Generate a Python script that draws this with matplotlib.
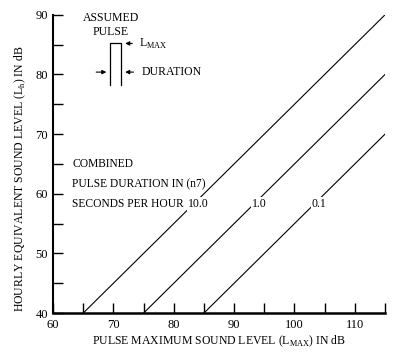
import numpy as np
import matplotlib
matplotlib.use('Agg')
import matplotlib.pyplot as plt

# pulse durations (seconds per hour) and line end points
durations = ['10.0', '1.0', '0.1']
x_start = [65, 75, 85]
y_start = [40, 40, 40]
x_end = [115, 115, 115]
y_end = [90, 80, 70]
label_y = 58.3

# note text, one line each
note_lines = ['COMBINED', 'PULSE DURATION IN (n7)', 'SECONDS PER HOUR']
note_y = [65.0, 61.6, 58.3]

plt.rcParams['font.family'] = ['Liberation Serif', 'DejaVu Serif']
plt.rcParams['mathtext.fontset'] = 'custom'
plt.rcParams['mathtext.rm'] = 'Liberation Serif'

fig = plt.figure(figsize=(4.0, 3.53), dpi=100)
ax = fig.add_axes([0.1325, 0.113, 0.83, 0.845])

for d, x0, y0, x1, y1 in zip(durations, x_start, y_start, x_end, y_end):
    ax.plot([x0, x1], [y0, y1], color='black', lw=0.8, zorder=2)
    lx = x0 + (label_y - y0) + 0.8
    ax.text(lx, label_y, d, fontsize=8.5, ha='center', va='center', zorder=3,
            bbox=dict(facecolor='white', edgecolor='none', pad=0.6))

for s, yy in zip(note_lines, note_y):
    ax.text(63.2, yy, s, fontsize=8.3, ha='left', va='center')

ax.set_xlim(60, 115)
ax.set_ylim(40, 90)
ax.set_xticks(np.arange(60, 111, 10))
ax.set_xticks(np.arange(65, 116, 5), minor=True)
ax.set_yticks(np.arange(40, 91, 10))
ax.set_yticks(np.arange(45, 90, 10), minor=True)
ax.tick_params(which='both', direction='in', length=7, width=1, labelsize=9)
ax.tick_params(axis='x', pad=4)
ax.spines['top'].set_visible(False)
ax.spines['right'].set_visible(False)
ax.spines['left'].set_linewidth(1.5)
ax.spines['bottom'].set_linewidth(1.8)

ax.set_xlabel('PULSE MAXIMUM SOUND LEVEL (L$_{\\mathrm{MAX}}$) IN dB', fontsize=8.5, labelpad=2)
ax.set_ylabel('HOURLY EQUIVALENT SOUND LEVEL (L$_{\\mathrm{h}}$) IN dB', fontsize=8.5)
ax.yaxis.set_label_coords(-0.075, 0.45)

# assumed pulse inset
ax.text(69.6, 89.4, 'ASSUMED', fontsize=8.5, ha='center', va='center')
ax.text(69.6, 87.1, 'PULSE', fontsize=8.5, ha='center', va='center')
ax.plot([69.4, 69.4, 71.3, 71.3], [78.3, 85.3, 85.3, 78.3], color='black', lw=0.9)
ax.annotate('', xy=(71.5, 85.2), xytext=(73.6, 85.2),
            arrowprops=dict(arrowstyle='-|>', lw=0.8, color='black', mutation_scale=6))
ax.text(74.3, 85.2, 'L$_{\\mathrm{MAX}}$', fontsize=8.5, ha='left', va='center')
ax.annotate('', xy=(69.3, 80.4), xytext=(66.7, 80.4),
            arrowprops=dict(arrowstyle='-|>', lw=0.8, color='black', mutation_scale=6))
ax.annotate('', xy=(71.5, 80.4), xytext=(73.8, 80.4),
            arrowprops=dict(arrowstyle='-|>', lw=0.8, color='black', mutation_scale=6))
ax.text(74.6, 80.4, 'DURATION', fontsize=8.5, ha='left', va='center')

fig.savefig('out.png', dpi=100)
